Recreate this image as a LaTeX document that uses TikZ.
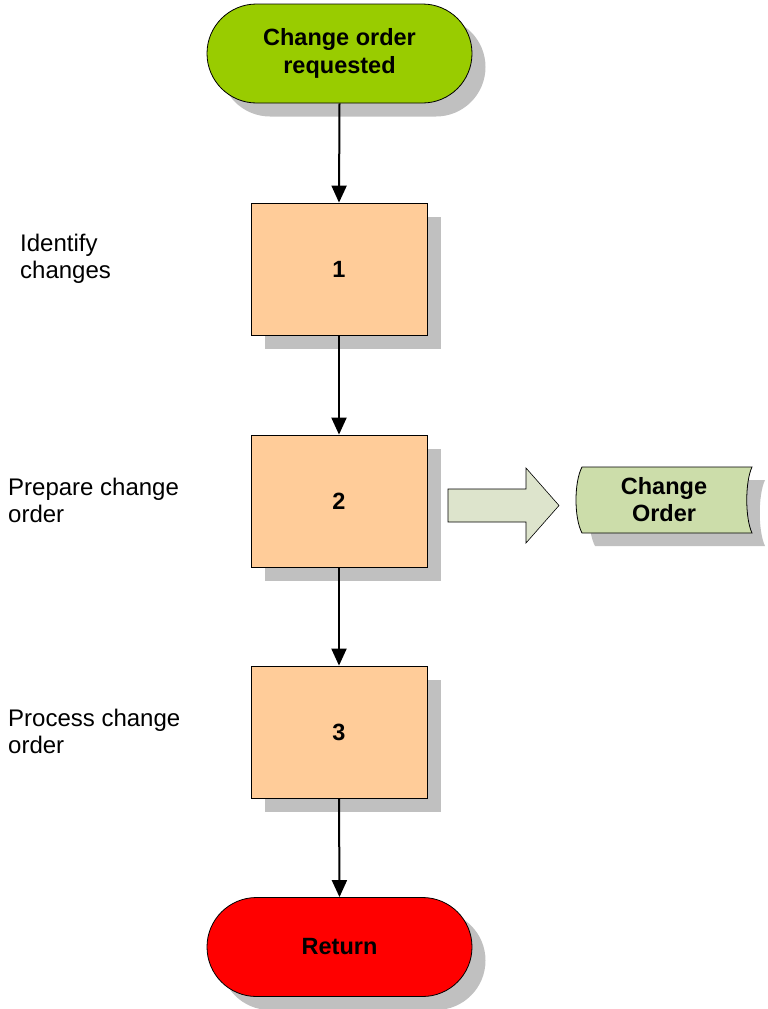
\documentclass[tikz,border=0pt]{standalone}
\usepackage{fontspec}
\setmainfont{Liberation Sans}
\usetikzlibrary{arrows.meta,shadows}
\definecolor{termgreen}{RGB}{153,204,0}
\definecolor{termred}{RGB}{255,0,0}
\definecolor{procfill}{RGB}{255,204,153}
\definecolor{shadowgray}{RGB}{192,192,192}
\definecolor{docfill}{RGB}{204,221,170}
\definecolor{bigarrowfill}{RGB}{221,228,204}
\tikzset{
  shad/.style={drop shadow={shadow xshift=13.5pt,shadow yshift=-13.5pt,fill=shadowgray,opacity=1}},
  terminal/.style={draw=black,line width=0.8pt,minimum width=265pt,minimum height=99pt,rounded corners=49.5pt,
    font=\fontsize{23.5}{28}\selectfont\bfseries,align=center,shad},
  procbox/.style={draw=black,line width=0.8pt,fill=procfill,minimum width=176pt,minimum height=132pt,
    font=\fontsize{23.5}{28}\selectfont\bfseries,shad},
  sidelabel/.style={anchor=west,align=left,inner sep=0pt,font=\fontsize{24}{27}\selectfont},
  flow/.style={line width=2pt,-{Triangle[length=17pt,width=15pt]}},
}
\begin{document}
\begin{tikzpicture}[x=1pt,y=-1pt]
\useasboundingbox (0,0) rectangle (768,1009);
% nodes
\node[terminal,fill=termgreen] (start) at (339.5,53.5) {Change order\\requested};
\node[procbox] (p1) at (339,269) {1};
\node[procbox] (p2) at (339,501) {2};
\node[procbox] (p3) at (339,732) {3};
\node[terminal,fill=termred] (ret) at (339.5,947) {Return};
% side labels
\node[sidelabel] (l1) at (20,258.5) {Identify\\changes};
\node[sidelabel] (l2) at (8,500.5) {Prepare change\\order};
\node[sidelabel] (l3) at (8,731.5) {Process change\\order};
% flow arrows
\draw[flow] (start.south) -- (p1.north);
\draw[flow] (p1.south) -- (p2.north);
\draw[flow] (p2.south) -- (p3.north);
\draw[flow] (p3.south) -- (ret.north);
% block arrow
\draw[line width=0.6pt,fill=bigarrowfill] (448,489) -- (526,489) -- (526,468) -- (559,505.5)
  -- (526,543) -- (526,522) -- (448,522) -- cycle;
% document (stored data) shape
\fill[shadowgray] (595,480) -- (765,480) .. controls (758,495) and (758,531) .. (765,546)
  -- (595,546) .. controls (587,531) and (587,495) .. (595,480) -- cycle;
\draw[line width=0.8pt,fill=docfill] (582,467) -- (752,467) .. controls (745,482) and (745,518) .. (752,533)
  -- (582,533) .. controls (574,518) and (574,482) .. (582,467) -- cycle;
\node[align=center,font=\fontsize{23.5}{27}\selectfont\bfseries] (doc) at (664,500) {Change\\Order};
\end{tikzpicture}
\end{document}
